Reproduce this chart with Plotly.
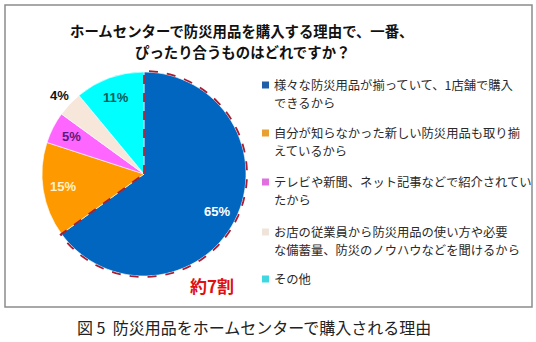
import math
import plotly.graph_objects as go

# Survey answers (percent) in the order they run clockwise from 12 o'clock
reasons = [
    "様々な防災用品が揃っていて、1店舗で購入できるから",
    "自分が知らなかった新しい防災用品も取り揃えているから",
    "テレビや新聞、ネット記事などで紹介されていたから",
    "お店の従業員から防災用品の使い方や必要な備蓄量、防災のノウハウなどを聞けるから",
    "その他",
]
legend_lines = [
    ["様々な防災用品が揃っていて、1店舗で購入", "できるから"],
    ["自分が知らなかった新しい防災用品も取り揃", "えているから"],
    ["テレビや新聞、ネット記事などで紹介されてい", "たから"],
    ["お店の従業員から防災用品の使い方や必要", "な備蓄量、防災のノウハウなどを聞けるから"],
    ["その他"],
]
shares = [65, 15, 5, 4, 11]

slice_colors = ["#0066C0", "#FF9900", "#FF66FF", "#F7E6DA", "#00FFFF"]
legend_colors = ["#1F5FA8", "#E8A030", "#E070E0", "#F0E4DA", "#40D8E0"]
label_colors = ["#FFFFFF", "#FFF2CC", "#5A1A7A", "#111111", "#0B5A5A"]
label_outside = [False, False, False, True, False]

title_lines = ["ホームセンターで防災用品を購入する理由で、一番、", "ぴったり合うものはどれですか？"]
caption_text = "図&nbsp;5&nbsp;&nbsp;防災用品をホームセンターで購入される理由"
callout_text = "約7割"

W, H = 536, 342
JP = "Noto Sans CJK JP"
NUM = "Liberation Sans, Arial"

# pie placement (pixels)
cx, cy, r = 144, 174, 102

fig = go.Figure()
fig.add_trace(go.Pie(
    labels=reasons,
    values=shares,
    sort=False,
    direction="clockwise",
    rotation=0,
    marker=dict(colors=slice_colors, line=dict(color="white", width=0.6)),
    textinfo="none",
    domain=dict(x=[(cx - r) / W, (cx + r) / W], y=[(H - cy - r) / H, (H - cy + r) / H]),
    showlegend=False,
    hoverinfo="label+percent",
))


def px_to_paper(x, y):
    return x / W, (H - y) / H


total = sum(shares)

# dashed outline around the leading slice
frac = shares[0] / total
ro = r + 1
pts = [px_to_paper(cx, cy)]
n = 80
for i in range(n + 1):
    th = 2 * math.pi * frac * i / n
    pts.append(px_to_paper(cx + ro * math.sin(th), cy - ro * math.cos(th)))
path = "M " + " L ".join(f"{x:.5f},{y:.5f}" for x, y in pts) + " Z"

shapes = [
    dict(type="path", xref="paper", yref="paper", path=path,
         line=dict(color="#A81E30", width=1.8, dash="dash")),
    dict(type="rect", xref="paper", yref="paper",
         x0=5 / W, x1=532 / W, y0=(H - 307) / H, y1=(H - 5) / H,
         line=dict(color="#8C8C8C", width=1.5), layer="below"),
]

annotations = [
    dict(text=caption_text, x=254 / W, y=(H - 327) / H, xref="paper", yref="paper",
         showarrow=False, xanchor="center", yanchor="middle",
         font=dict(family=JP, size=16, color="#222222")),
    dict(text=f"<b>{callout_text}</b>", x=212 / W, y=(H - 285) / H, xref="paper", yref="paper",
         showarrow=False, xanchor="center", yanchor="middle",
         font=dict(family=JP, size=17, color="#E01010")),
]

# two-line heading
for k, ln in enumerate(title_lines):
    annotations.append(dict(text=f"<b>{ln}</b>", x=242 / W, y=(H - 30 - 21 * k) / H,
                            xref="paper", yref="paper", showarrow=False,
                            xanchor="center", yanchor="middle",
                            font=dict(family=JP, size=14.4, color="#111111")))

# percentage labels along each slice's mid-angle
cum = 0
for v, col, outside in zip(shares, label_colors, label_outside):
    mid = 2 * math.pi * (cum + v / 2) / total
    cum += v
    rr = r * (1.13 if outside else 0.8)
    lx, ly = px_to_paper(cx + rr * math.sin(mid), cy - rr * math.cos(mid))
    annotations.append(dict(text=f"<b>{v}%</b>", x=lx, y=ly, xref="paper", yref="paper",
                            showarrow=False, xanchor="center", yanchor="middle",
                            font=dict(family=NUM, size=13, color=col)))

# legend: colour square plus wrapped text lines
item_tops = [85, 133, 182, 232, 279]
line_gap = 18
for lines, col, y0 in zip(legend_lines, legend_colors, item_tops):
    shapes.append(dict(type="rect", xref="paper", yref="paper",
                       x0=262 / W, x1=269 / W, y0=(H - y0 - 3.5) / H, y1=(H - y0 + 3.5) / H,
                       fillcolor=col, line=dict(width=0)))
    for k, ln in enumerate(lines):
        annotations.append(dict(text=ln, x=272 / W, y=(H - y0 - k * line_gap) / H,
                                xref="paper", yref="paper", showarrow=False,
                                xanchor="left", yanchor="middle",
                                font=dict(family=JP, size=12.3, color="#2A2A2A")))

fig.update_layout(
    width=W, height=H, autosize=False,
    margin=dict(l=0, r=0, t=0, b=0),
    paper_bgcolor="white", plot_bgcolor="white",
    shapes=shapes, annotations=annotations,
)

fig.write_html("out.html", config={"displayModeBar": False})
